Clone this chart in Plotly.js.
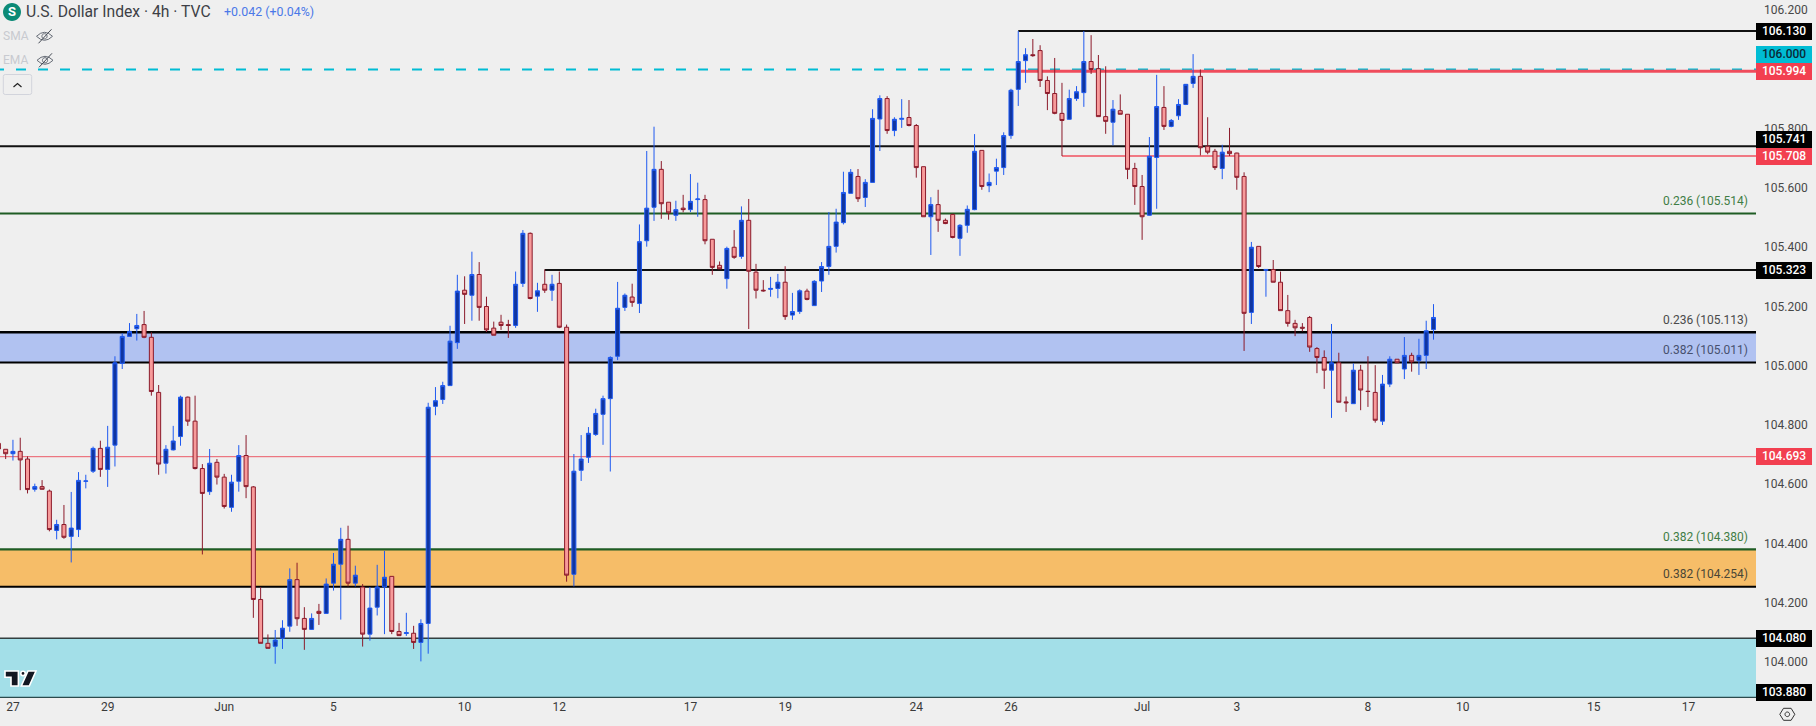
<!DOCTYPE html>
<html><head><meta charset="utf-8">
<script src="https://cdn.plot.ly/plotly-3.0.1.min.js"></script>
<style>html,body{margin:0;padding:0;background:#efefef;overflow:hidden}#c{width:1816px;height:726px}</style>
</head><body><div id="c"></div>
<script>
// first bar is index -1
const opens=[
104.738,104.718,104.703,104.711,104.685,104.583,104.592,104.577,104.444,104.464,
104.424,104.447,104.610,104.644,104.721,104.650,104.732,105.008,105.099,105.125,
105.139,105.096,104.910,104.671,104.716,104.761,104.894,104.813,104.653,104.575,
104.674,104.624,104.522,104.610,104.697,104.591,104.211,104.063,104.053,104.080,
104.121,104.278,104.147,104.110,104.171,104.164,104.266,104.330,104.414,104.266,
104.253,104.094,104.185,104.253,104.289,104.103,104.096,104.097,104.066,104.130,
104.863,104.886,104.933,105.078,105.255,105.238,105.308,105.200,105.127,105.147,
105.139,105.136,105.278,105.447,105.235,105.275,105.255,105.278,105.130,104.296,
104.647,104.691,104.768,104.836,104.889,105.032,105.197,105.232,105.210,105.422,
105.535,105.663,105.552,105.508,105.532,105.527,105.561,105.561,105.427,105.339,
105.294,105.400,105.369,105.491,105.316,105.255,105.258,105.261,105.282,105.171,
105.183,105.252,105.203,105.286,105.335,105.403,105.483,105.582,105.639,105.568,
105.619,105.833,105.902,105.794,105.832,105.838,105.811,105.672,105.503,105.544,
105.491,105.511,105.430,105.474,105.527,105.727,105.608,105.657,105.669,105.777,
105.933,106.030,106.050,106.064,105.963,105.919,105.852,105.832,105.902,105.922,
106.027,106.003,105.841,105.822,105.861,105.849,105.666,105.605,105.508,105.703,
105.872,105.808,105.844,105.882,105.953,105.977,105.741,105.724,105.666,105.724,
105.718,105.639,105.180,105.403,105.322,105.325,105.282,105.186,105.143,105.130,
105.163,105.058,105.028,104.985,105.010,104.878,104.872,104.985,104.914,104.910,
104.813,104.938,105.022,104.989,105.035,105.018,105.035,105.122];
const highs=[
104.750,104.718,104.750,104.757,104.694,104.602,104.614,104.582,104.480,104.530,
104.574,104.641,104.632,104.727,104.747,104.797,105.032,105.110,105.144,105.175,
105.185,105.113,104.935,104.732,104.797,104.899,104.896,104.899,104.668,104.719,
104.685,104.635,104.632,104.732,104.766,104.594,104.253,104.093,104.108,104.141,
104.316,104.335,104.185,104.164,104.196,104.282,104.368,104.453,104.460,104.325,
104.263,104.253,104.328,104.375,104.289,104.132,104.166,104.122,104.144,104.875,
104.928,104.946,105.135,105.307,105.302,105.385,105.350,105.233,105.149,105.172,
105.155,105.318,105.458,105.450,105.280,105.325,105.307,105.318,105.139,104.702,
104.766,104.793,104.855,104.899,105.032,105.283,105.244,105.277,105.477,105.725,
105.807,105.691,105.552,105.557,105.577,105.647,105.618,105.577,105.427,105.352,
105.402,105.458,105.538,105.563,105.344,105.289,105.300,105.310,105.336,105.246,
105.258,105.260,105.289,105.350,105.519,105.530,105.655,105.664,105.664,105.630,
105.866,105.913,105.910,105.839,105.900,105.897,105.816,105.672,105.569,105.594,
105.497,105.513,105.478,105.541,105.782,105.727,105.649,105.699,105.788,105.935,
106.130,106.072,106.103,106.082,105.977,106.039,105.955,105.932,105.944,106.130,
106.116,106.049,106.011,105.897,105.916,105.849,105.685,105.644,105.772,105.982,
105.944,105.833,105.900,105.950,106.052,106.000,105.839,105.732,105.746,105.803,
105.719,105.653,105.418,105.403,105.325,105.357,105.318,105.239,105.155,105.144,
105.168,105.063,105.052,105.141,105.044,104.896,105.008,105.003,105.032,105.002,
104.969,105.032,105.022,105.097,105.044,105.091,105.152,105.208];
const lows=[
104.716,104.685,104.680,104.580,104.569,104.575,104.582,104.441,104.414,104.416,
104.336,104.422,104.586,104.638,104.625,104.591,104.660,104.989,105.099,105.085,
105.093,104.899,104.632,104.636,104.714,104.730,104.797,104.650,104.363,104.564,
104.599,104.518,104.507,104.575,104.553,104.149,104.063,104.046,103.994,104.044,
104.102,104.122,104.041,104.108,104.125,104.163,104.241,104.143,104.255,104.255,
104.052,104.072,104.157,104.094,104.094,104.088,104.088,104.044,104.002,104.028,
104.833,104.871,104.932,105.057,105.141,105.152,105.152,105.114,105.103,105.121,
105.094,105.128,105.266,105.224,105.182,105.246,105.219,105.127,104.271,104.255,
104.611,104.672,104.763,104.733,104.643,105.019,105.185,105.199,105.178,105.402,
105.489,105.496,105.493,105.489,105.518,105.519,105.503,105.410,105.307,105.327,
105.260,105.361,105.361,105.124,105.227,105.250,105.233,105.228,105.155,105.155,
105.175,105.221,105.202,105.249,105.307,105.382,105.477,105.582,105.553,105.536,
105.619,105.725,105.783,105.775,105.803,105.808,105.635,105.503,105.374,105.452,
105.478,105.430,105.371,105.449,105.525,105.594,105.586,105.610,105.644,105.766,
105.877,105.955,106.043,105.941,105.863,105.849,105.708,105.830,105.894,105.874,
105.985,105.841,105.783,105.744,105.849,105.630,105.543,105.425,105.507,105.530,
105.796,105.805,105.830,105.880,105.938,105.710,105.714,105.661,105.630,105.708,
105.594,105.050,105.141,105.330,105.233,105.282,105.186,105.132,105.100,105.116,
105.047,104.975,104.922,104.824,104.877,104.844,104.871,104.850,104.861,104.808,
104.800,104.928,105.010,104.955,104.980,104.969,104.989,105.088];
const closes=[
104.719,104.703,104.711,104.682,104.582,104.592,104.583,104.447,104.464,104.421,
104.452,104.613,104.611,104.721,104.650,104.725,105.010,105.099,105.116,105.136,
105.096,104.913,104.668,104.718,104.746,104.894,104.813,104.653,104.569,104.671,
104.624,104.525,104.607,104.697,104.592,104.211,104.063,104.046,104.074,104.114,
104.278,104.146,104.110,104.147,104.164,104.263,104.330,104.414,104.266,104.293,
104.094,104.182,104.253,104.286,104.103,104.089,104.099,104.066,104.130,104.860,
104.882,104.933,105.083,105.252,105.241,105.308,105.197,105.121,105.103,105.136,
105.136,105.275,105.447,105.227,105.253,105.255,105.275,105.130,104.293,104.644,
104.685,104.772,104.839,104.889,105.028,105.194,105.238,105.214,105.419,105.532,
105.663,105.547,105.516,105.527,105.527,105.555,105.563,105.422,105.332,105.327,
105.396,105.366,105.491,105.319,105.255,105.253,105.261,105.282,105.166,105.183,
105.253,105.224,105.285,105.335,105.403,105.485,105.585,105.653,105.564,105.619,
105.835,105.902,105.794,105.832,105.835,105.811,105.669,105.503,105.544,105.491,
105.480,105.433,105.474,105.528,105.724,105.605,105.619,105.669,105.777,105.930,
106.027,106.050,106.047,105.963,105.919,105.852,105.828,105.902,105.925,106.027,
106.000,105.841,105.825,105.866,105.849,105.663,105.605,105.503,105.707,105.875,
105.808,105.828,105.882,105.950,105.977,105.736,105.721,105.669,105.721,105.716,
105.636,105.177,105.400,105.335,105.325,105.282,105.186,105.143,105.128,105.127,
105.063,105.028,104.985,105.010,104.877,104.875,104.985,104.918,104.913,104.816,
104.938,105.022,105.010,105.035,105.013,105.035,105.118,105.163];
const xTickVals=[1,14,30,45,63,76,94,107,125,138,156,169,187,200,218,231];
const xTickText=["27","29","Jun","5","10","12","17","19","24","26","Jul","3","8","10","15","17"];
const yTickVals=[106.2,105.8,105.6,105.4,105.2,105.0,104.8,104.6,104.4,104.2,104.0];

// horizontal levels: [price, startBar or null for full width, colour, width, dash]
const levelLines=[
 [106.130,139,"#111111",2,"solid"],
 [106.000,null,"#00bcd4",2,"22"],
 [105.994,139.3,"#ef4c5c",3,"solid"],
 [105.741,null,"#111111",2,"solid"],
 [105.708,145,"#f0505f",1.6,"solid"],
 [105.514,null,"#1f5c24",2,"solid"],
 [105.323,74,"#111111",2,"solid"],
 [105.113,null,"#000000",2.6,"solid"],
 [105.011,null,"#000000",2,"solid"],
 [104.693,null,"#ec5a68",1,"solid"],
 [104.380,null,"#1f5c24",2.4,"solid"],
 [104.254,null,"#000000",2,"solid"],
 [104.080,null,"#333f40",1.6,"solid"],
 [103.880,null,"#2b4a4c",1.6,"solid"]];
const zones=[[105.011,105.113,"#b1c2f1"],[104.254,104.380,"#f6bd68"],[103.880,104.080,"#a3dfe8"]];
// price tags: [price text, price, bg, fg, yshift]
const priceTags=[
 ["106.130",106.130,"#000000","#ffffff",0],
 ["106.000",106.000,"#00bcd4","#0b2a38",15.3],
 ["105.994",105.994,"#f23f50","#ffffff",0],
 ["105.741",105.741,"#000000","#ffffff",7],
 ["105.708",105.708,"#f23f50","#ffffff",0],
 ["105.323",105.323,"#000000","#ffffff",0],
 ["104.693",104.693,"#f23f50","#ffffff",0],
 ["104.080",104.080,"#000000","#ffffff",0],
 ["103.880",103.880,"#000000","#ffffff",5.5]];
const fibLabels=[
 ["0.236 (105.514)",105.514,"#3f7d45"],
 ["0.236 (105.113)",105.113,"#4a4a4a"],
 ["0.382 (105.011)",105.011,"#47506e"],
 ["0.382 (104.380)",104.380,"#3f7d45"],
 ["0.382 (104.254)",104.254,"#4a4636"]];

const W=1756,H=698,F="Roboto, sans-serif";
const barIdx=opens.map((_,i)=>i-1);
const shapes=[],ann=[];
zones.forEach(z=>shapes.push({type:"rect",layer:"below",xref:"paper",yref:"y",x0:0,x1:1,y0:z[0],y1:z[1],fillcolor:z[2],line:{width:0}}));
levelLines.forEach(l=>{
  const s={type:"line",layer:"below",yref:"y",y0:l[0],y1:l[0],line:{color:l[2],width:l[3],dash:l[4]==="solid"?"solid":"10px,12px"}};
  if(l[1]===null){s.xref="paper";s.x0=l[4]==="solid"?0:-6/W;s.x1=1;}
  else{s.xref="x";s.x0=l[1];s.x1=240.27;}
  shapes.push(s);
});
// pixel-anchored decorations (pixels measured from page top-left)
function deco(path,o){return Object.assign({type:"path",layer:"above",xref:"paper",yref:"paper",xsizemode:"pixel",ysizemode:"pixel",xanchor:0,yanchor:1,path:path},o);}
function P(pts){return "M"+pts.map(p=>p[0]+","+(-p[1])).join(" L")+" Z";}
function circ(cx,cy,r){const k=r*0.5523,y=-cy;return `M${cx-r},${y} C${cx-r},${y+k} ${cx-k},${y+r} ${cx},${y+r} C${cx+k},${y+r} ${cx+r},${y+k} ${cx+r},${y} C${cx+r},${y-k} ${cx+k},${y-r} ${cx},${y-r} C${cx-k},${y-r} ${cx-r},${y-k} ${cx-r},${y} Z`;}
function eye(cx,cy){
  const c="#666c76";
  shapes.push(deco(`M${cx-8},${-cy} Q${cx},${-cy+8} ${cx+8},${-cy} Q${cx},${-cy-8} ${cx-8},${-cy} Z`,{line:{color:c,width:1},fillcolor:"rgba(0,0,0,0)"}));
  shapes.push(deco(circ(cx,cy,2.6),{line:{color:c,width:1},fillcolor:"rgba(0,0,0,0)"}));
  shapes.push(deco(`M${cx-6},${-cy-7} L${cx+7},${-cy+7}`,{line:{color:"#444a54",width:1}}));
}
shapes.push(deco(circ(12,12,9),{fillcolor:"#0b8a76",line:{width:0}}));
eye(44.5,36.3);eye(45,60.3);
shapes.push(deco("M5.3,-74.5 L29.7,-74.5 Q31.7,-74.5 31.7,-76.5 L31.7,-92.5 Q31.7,-94.5 29.7,-94.5 L5.3,-94.5 Q3.3,-94.5 3.3,-92.5 L3.3,-76.5 Q3.3,-74.5 5.3,-74.5 Z",{fillcolor:"#efefef",line:{color:"#d2d4dc",width:1}}));
shapes.push(deco("M13.5,-87 L17.5,-83.5 L21.5,-87",{line:{color:"#222",width:1.2}}));
// TradingView mark
const logoFg="#131722";
[P([[5,671],[18.4,671],[18.4,686],[11,686],[11,677.3],[5,677.3]]),circ(23,673.4,2.2),P([[28,671],[36,671],[29.3,686],[21.3,686]])].forEach(p=>{
  shapes.push(deco(p,{fillcolor:logoFg,line:{color:"#ffffff",width:1.6}}));
});
// settings mark
const gx=1787.3,gy=714.3;
shapes.push(deco(P([[gx-7.5,gy],[gx-3.8,gy-6],[gx+3.8,gy-6],[gx+7.5,gy],[gx+3.8,gy+6],[gx-3.8,gy+6]]),{fillcolor:"rgba(0,0,0,0)",line:{color:"#333",width:1}}));
shapes.push(deco(circ(gx,gy,2.3),{fillcolor:"rgba(0,0,0,0)",line:{color:"#333",width:1}}));

function txt(text,px,py,size,color,anchor,extra){
  ann.push(Object.assign({xref:"paper",yref:"paper",x:px/W,y:1-py/H,text,showarrow:false,xanchor:anchor||"left",yanchor:"middle",font:{family:F,size,color},borderpad:0,borderwidth:0},extra||{}));
}
txt("<b>S</b>",12,12,13,"#ffffff","center");
txt("U.S. Dollar Index · 4h · TVC",25.5,12,15.7,"#3d3f46");
txt("+0.042 (+0.04%)",224,12,12.4,"#4a78e8");
txt("SMA",3,36.5,12,"#c8cad0");
txt("EMA",3,60.5,12,"#c8cad0");
priceTags.forEach(t=>ann.push({xref:"paper",yref:"y",x:1,y:t[1],xanchor:"left",yanchor:"middle",yshift:t[4],text:t[0],showarrow:false,width:56.3,height:16.6,align:"center",valign:"middle",bgcolor:t[2],borderpad:0,borderwidth:0,font:{family:F,size:12,weight:500,color:t[3]}}));
fibLabels.forEach(t=>ann.push({xref:"paper",yref:"y",x:1747.5/W,y:t[1],xanchor:"right",yanchor:"middle",yshift:12.4,text:t[0],showarrow:false,borderpad:0,borderwidth:0,font:{family:F,size:12,color:t[2]}}));

const trace={type:"candlestick",x:barIdx,open:opens,high:highs,low:lows,close:closes,whiskerwidth:0,hoverinfo:"skip",
  increasing:{line:{color:"#1f5af0",width:1},fillcolor:"#1035a0"},
  decreasing:{line:{color:"#8b1a2a",width:1},fillcolor:"#f79a9a"}};
const layout={width:1816,height:726,margin:{l:0,r:60,t:0,b:28,pad:0},paper_bgcolor:"#efefef",plot_bgcolor:"#efefef",showlegend:false,boxgap:0.216,
  xaxis:{type:"linear",range:[-0.778,240.27],rangeslider:{visible:false},showgrid:false,zeroline:false,showline:false,ticks:"",tickmode:"array",tickvals:xTickVals,ticktext:xTickText,tickfont:{family:F,size:12,color:"#3a3a3a"}},
  yaxis:{side:"right",range:[103.8784,106.2347],showgrid:false,zeroline:false,showline:false,ticks:"",tickmode:"array",tickvals:yTickVals,ticktext:yTickVals.map(v=>v.toFixed(3)),tickfont:{family:F,size:12,color:"#484848"},ticklabelstandoff:7},
  shapes,annotations:ann};
Plotly.newPlot("c",[trace],layout,{displayModeBar:false,staticPlot:true});
</script></body></html>
